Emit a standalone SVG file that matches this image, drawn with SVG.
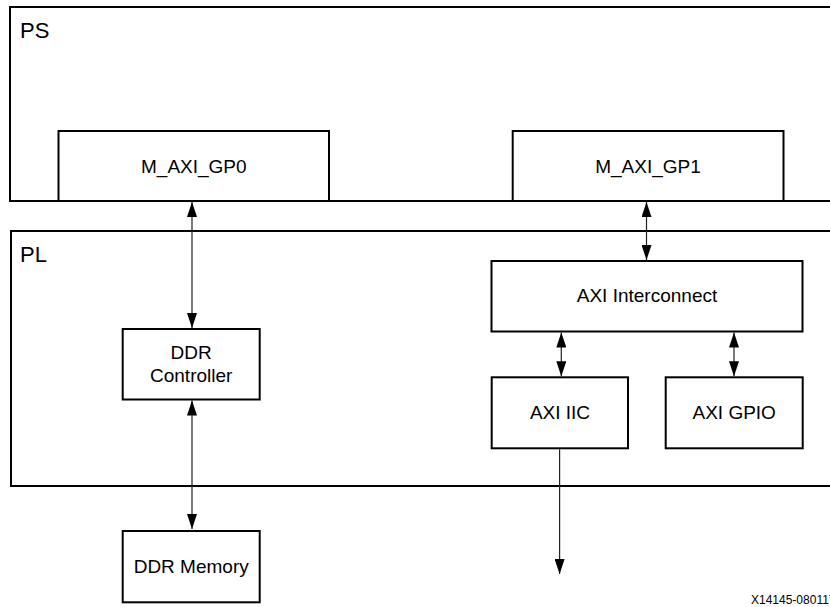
<svg xmlns="http://www.w3.org/2000/svg" width="830" height="607" viewBox="0 0 830 607">
  <style>
    .box { fill: #ffffff; stroke: #000000; stroke-width: 2; }
    .lbl { font-family: "Liberation Sans", Arial, sans-serif; font-size: 19px; fill: #000000; text-anchor: middle; }
    .big { font-family: "Liberation Sans", Arial, sans-serif; font-size: 22px; fill: #000000; }
    .conn { stroke: #222222; stroke-width: 1.2; fill: none; }
    .tag { font-family: "Liberation Sans", Arial, sans-serif; font-size: 12px; fill: #000000; }
  </style>
  <defs>
    <marker id="arr" markerUnits="userSpaceOnUse" markerWidth="15" markerHeight="10" refX="15" refY="5" orient="auto-start-reverse">
      <path d="M0,0 L15,5 L0,10 z" fill="#000000"/>
    </marker>
  </defs>
  <rect width="830" height="607" fill="#ffffff"/>

  <g id="ps">
    <rect class="box" x="10" y="7" width="830" height="194"/>
    <text class="big" x="20" y="37.5">PS</text>
  </g>
  <g id="pl">
    <rect class="box" x="11" y="231" width="830" height="255"/>
    <text class="big" x="20" y="262">PL</text>
  </g>
  <g id="m_axi_gp0">
    <rect class="box" x="58.5" y="131" width="270.5" height="70"/>
    <text class="lbl" x="193.8" y="172.5">M_AXI_GP0</text>
  </g>
  <g id="m_axi_gp1">
    <rect class="box" x="512.7" y="131" width="270.8" height="70"/>
    <text class="lbl" x="648" y="172.5">M_AXI_GP1</text>
  </g>
  <g id="axi_interconnect">
    <rect class="box" x="491.5" y="261" width="311" height="70.5"/>
    <text class="lbl" x="647" y="301.7">AXI Interconnect</text>
  </g>
  <g id="ddr_controller">
    <rect class="box" x="122.7" y="329" width="137" height="70.5"/>
    <text class="lbl" x="191.2" y="359.3">DDR</text>
    <text class="lbl" x="191.2" y="381.7">Controller</text>
  </g>
  <g id="axi_iic">
    <rect class="box" x="491.7" y="377.3" width="136.3" height="71"/>
    <text class="lbl" x="560" y="419">AXI IIC</text>
  </g>
  <g id="axi_gpio">
    <rect class="box" x="665.7" y="377.3" width="137" height="71"/>
    <text class="lbl" x="734.2" y="419">AXI GPIO</text>
  </g>
  <g id="ddr_memory">
    <rect class="box" x="122.7" y="531" width="137" height="71.3"/>
    <text class="lbl" x="191.2" y="573.3">DDR Memory</text>
  </g>

  <g id="connectors">
    <line class="conn" x1="192" y1="202" x2="192" y2="328" marker-start="url(#arr)" marker-end="url(#arr)"/>
    <line class="conn" x1="646.5" y1="202" x2="646.5" y2="260" marker-start="url(#arr)" marker-end="url(#arr)"/>
    <line class="conn" x1="561.3" y1="332.5" x2="561.3" y2="376.3" marker-start="url(#arr)" marker-end="url(#arr)"/>
    <line class="conn" x1="734" y1="332.5" x2="734" y2="376.3" marker-start="url(#arr)" marker-end="url(#arr)"/>
    <line class="conn" x1="192" y1="400.5" x2="192" y2="529" marker-start="url(#arr)" marker-end="url(#arr)"/>
    <line class="conn" x1="559.6" y1="449.3" x2="559.6" y2="574" marker-end="url(#arr)"/>
  </g>

  <text class="tag" x="751" y="604">X14145-080117</text>
</svg>
